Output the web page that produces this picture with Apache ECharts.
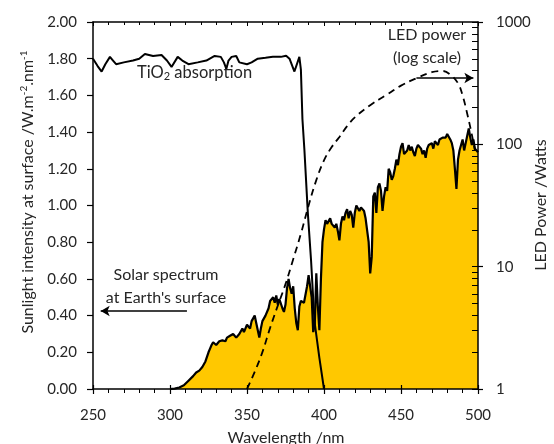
<!DOCTYPE html>
<html>
<head>
<meta charset="utf-8">
<script src="https://cdn.jsdelivr.net/npm/echarts@6/dist/echarts.min.js"></script>
<style>
  html, body { margin: 0; padding: 0; background: #fff; }
  #main { width: 554px; height: 444px; }
</style>
</head>
<body>
<div id="main"></div>
<script>
// 太阳光谱 [波长nm, 强度]
var solarData = [
  [300,0],[303,0.002],[306,0.008],[309,0.02],[312,0.045],[315,0.07],[317,0.09],[319,0.1],
  [321,0.12],[323,0.15],[325,0.2],[326,0.22],[327,0.24],[328,0.255],[329,0.26],[330,0.24],
  [331,0.25],[332,0.26],[333,0.25],[334,0.265],[335,0.27],[336,0.26],[337,0.28],[338,0.27],
  [339,0.29],[340,0.29],[341,0.3],[342,0.3],[343,0.28],[344,0.285],[345,0.3],[346,0.31],
  [347,0.33],[348,0.31],[349,0.3],[350,0.35],[351,0.36],[352,0.33],[353,0.37],[354,0.38],
  [355,0.4],[356,0.36],[357,0.32],[358,0.28],[359,0.33],[360,0.37],[361,0.38],[362,0.4],
  [363,0.41],[364,0.44],[365,0.48],[366,0.49],[367,0.5],[368,0.47],[369,0.51],[370,0.46],
  [371,0.49],[372,0.5],[373,0.44],[374,0.42],[375,0.46],[376,0.55],[377,0.6],[378,0.55],
  [379,0.52],[380,0.56],[381,0.44],[382,0.36],[383,0.32],[384,0.45],[385,0.48],[386,0.47],
  [387,0.47],[388,0.48],[389,0.56],[390,0.62],[391,0.63],[392,0.5],[393,0.31],[394,0.35],
  [395,0.63],[396,0.45],[397,0.32],[398,0.6],[399,0.8],[400,0.87],[401,0.92],[402,0.9],
  [403,0.91],[404,0.93],[405,0.9],[406,0.89],[407,0.88],[408,0.9],[409,0.86],[410,0.81],
  [411,0.9],[412,0.94],[413,0.92],[414,0.96],[415,0.98],[416,0.93],[417,0.97],[418,0.95],
  [419,0.88],[420,0.96],[421,1.0],[422,0.99],[423,0.97],[424,0.99],[425,0.98],[426,0.97],
  [427,0.93],[428,0.92],[429,0.8],[430,0.63],[431,0.72],[432,1.05],[433,1.07],[434,0.96],
  [435,1.1],[436,1.12],[437,1.08],[438,0.97],[439,1.05],[440,1.1],[441,1.08],[442,1.2],
  [443,1.18],[444,1.14],[445,1.16],[446,1.2],[447,1.25],[448,1.22],[449,1.28],[450,1.32],
  [451,1.34],[452,1.28],[453,1.27],[454,1.3],[455,1.33],[456,1.3],[457,1.32],[458,1.29],
  [459,1.27],[460,1.31],[461,1.33],[462,1.34],[463,1.31],[464,1.28],[465,1.3],[466,1.26],
  [467,1.31],[468,1.33],[469,1.32],[470,1.34],[471,1.31],[472,1.35],[473,1.34],[474,1.33],
  [475,1.36],[476,1.35],[477,1.37],[478,1.38],[479,1.37],[480,1.39],[481,1.38],[482,1.36],
  [483,1.34],[484,1.3],[485,1.2],[486,1.09],[487,1.25],[488,1.3],[489,1.33],[490,1.36],
  [491,1.3],[492,1.34],[493,1.38],[494,1.42],[495,1.37],[496,1.33],[497,1.36],[498,1.31],
  [499,1.3],[500,1.29]
];

// TiO2 吸收曲线
var tio2Data = [
  [250,1.80],[253,1.76],[255.6,1.73],[258,1.77],[261,1.81],[263,1.79],[265,1.77],[270,1.78],
  [276,1.79],[280,1.80],[283.7,1.826],[289,1.815],[294.5,1.82],[298,1.79],[301,1.755],
  [305,1.81],[308,1.79],[312,1.77],[318,1.78],[323.6,1.79],[329,1.815],[333,1.81],[335,1.78],
  [336.6,1.745],[338,1.79],[340,1.81],[343,1.815],[345,1.78],[350,1.77],[353,1.78],[357,1.80],
  [362,1.805],[366.8,1.81],[372,1.81],[375.4,1.816],[377.6,1.80],[380.8,1.73],[384,1.81],
  [385,1.74],[386,1.47],[387.3,1.3],[389.5,0.96],[391.6,0.7],[393.8,0.37],[397,0.17],[400,0]
];

// LED 功率 (对数坐标, 瓦)
var ledNm    = [350, 355, 360, 365, 370, 375, 380, 385, 390, 395, 400, 405, 410, 415, 420, 430, 440, 450, 460, 470, 477, 482, 487, 490, 493, 496, 498];
var ledWatts = [1, 1.38, 2.0, 3.16, 4.8, 7.2, 11.5, 18.6, 31.6, 51, 74, 95, 115, 141, 166, 209, 251, 302, 347, 389, 398, 372, 316, 251, 178, 120, 89];

var rightMinor = [1,2,3,4,5,6,7,8,9,10,20,30,40,50,60,70,80,90,100,200,300,400,500,600,700,800,900,1000];

var ledData = [];
for (var i = 0; i < ledNm.length; i++) {
  ledData.push([ledNm[i], ledWatts[i]]);
}
// 对数轴刻度位置
var minorLog = rightMinor.map(function (v) { return Math.log10(v); });

var FONT = 'Lato';
var TXT = '#262626';
var RECT = { left: 93, right: 76, top: 22, bottom: 55 };
var HIDDEN_LINE = { show: true, onZero: false, lineStyle: { color: '#000', width: 0, opacity: 0 } };

var myChart = echarts.init(document.getElementById('main'));

myChart.setOption({
  animation: false,
  grid: [
    { left: RECT.left, right: RECT.right, top: RECT.top, bottom: RECT.bottom },
    { left: RECT.left, right: RECT.right, top: RECT.top, bottom: RECT.bottom },
    { left: RECT.left, right: RECT.right, top: RECT.top, bottom: RECT.bottom }
  ],
  xAxis: [
    {
      type: 'value', min: 250, max: 500, interval: 50, position: 'bottom', gridIndex: 0, z: 10,
      axisLine: { onZero: false, lineStyle: { color: '#000', width: 1.5 } },
      axisTick: { show: true, length: 5, lineStyle: { color: '#000', width: 1.2 } },
      minorTick: { show: true, splitNumber: 5, length: 4, lineStyle: { color: '#000', width: 1 } },
      axisLabel: { margin: 19, fontSize: 15, fontFamily: FONT, color: TXT },
      splitLine: { show: false }
    },
    {
      type: 'value', min: 250, max: 500, interval: 50, position: 'top', gridIndex: 0, z: 10,
      axisLine: { show: true, onZero: false, lineStyle: { color: '#000', width: 1.5 } },
      axisTick: { show: true, inside: true, length: 4, lineStyle: { color: '#000', width: 1 } },
      minorTick: { show: true, splitNumber: 5, length: 3, lineStyle: { color: '#000', width: 1 } },
      axisLabel: { show: false },
      splitLine: { show: false }
    },
    {
      type: 'value', min: 250, max: 500, interval: 50, position: 'bottom', gridIndex: 1, z: 10,
      axisLine: HIDDEN_LINE,
      axisTick: { show: true, inside: true, length: 4, lineStyle: { color: '#000', width: 1.2 } },
      axisLabel: { show: false },
      splitLine: { show: false }
    },
    {
      type: 'value', min: 250, max: 500, interval: 50, position: 'bottom', gridIndex: 2,
      show: false
    }
  ],
  yAxis: [
    {
      type: 'value', min: 0, max: 2, interval: 0.2, position: 'left', gridIndex: 0, z: 10,
      axisLine: { show: true, onZero: false, lineStyle: { color: '#000', width: 1.5 } },
      axisTick: { show: true, length: 6, lineStyle: { color: '#000', width: 1.2 } },
      axisLabel: { margin: 16, fontSize: 15, fontFamily: FONT, color: TXT,
        formatter: function (v) { return v.toFixed(2); } },
      splitLine: { show: false }
    },
    {
      type: 'log', logBase: 10, min: 1, max: 1000, position: 'right', gridIndex: 0, z: 10,
      axisLine: { show: true, onZero: false, lineStyle: { color: '#000', width: 1.5 } },
      axisTick: { show: false },
      axisLabel: { margin: 18, fontSize: 15, fontFamily: FONT, color: TXT,
        formatter: function (v) { return String(Math.round(v)); } },
      splitLine: { show: false }
    },
    {
      type: 'value', min: 0, max: 3, position: 'right', gridIndex: 1, z: 10,
      axisLine: HIDDEN_LINE,
      axisTick: { show: true, inside: true, length: 6, customValues: minorLog, lineStyle: { color: '#000', width: 1 } },
      axisLabel: { show: false },
      splitLine: { show: false }
    },
    {
      type: 'value', min: 0, max: 3, interval: 1, position: 'right', gridIndex: 2, z: 10,
      axisLine: HIDDEN_LINE,
      axisTick: { show: true, length: 5, lineStyle: { color: '#000', width: 1.2 } },
      axisLabel: { show: false },
      splitLine: { show: false }
    }
  ],
  series: [
    {
      name: 'solar', type: 'line', xAxisIndex: 0, yAxisIndex: 0,
      data: solarData, symbol: 'none', smooth: false,
      lineStyle: { color: '#000', width: 2.2 },
      areaStyle: { color: '#FFC800', opacity: 1 },
      z: 2
    },
    {
      name: 'led', type: 'line', xAxisIndex: 0, yAxisIndex: 1,
      data: ledData, symbol: 'none', smooth: 0.4,
      lineStyle: { color: '#000', width: 1.8, type: [7, 5] },
      z: 3
    },
    {
      name: 'tio2', type: 'line', xAxisIndex: 0, yAxisIndex: 0,
      data: tio2Data, symbol: 'none', smooth: false,
      lineStyle: { color: '#000', width: 2 },
      z: 4,
      markLine: {
        silent: true, animation: false,
        lineStyle: { color: '#000', width: 1.5, type: 'solid' },
        label: { show: false },
        symbolSize: [8, 9],
        data: [
          [ { coord: [311, 0.425], symbol: 'none' }, { coord: [255, 0.425], symbol: 'arrow' } ],
          [ { coord: [460, 1.695], symbol: 'none' }, { coord: [497, 1.695], symbol: 'arrow' } ]
        ]
      }
    }
  ],
  graphic: [
    {
      type: 'text', left: 137, top: 64,
      style: {
        text: 'TiO{sub|2} absorption', fontSize: 16.5, fontFamily: FONT, fill: TXT,
        rich: { sub: { fontSize: 11, fontFamily: FONT, fill: TXT, padding: [8, 0, 0, 0] } }
      }
    },
    {
      type: 'text', x: 166, y: 286,
      style: {
        text: "Solar spectrum\nat Earth's surface", fontSize: 16, fontFamily: FONT, fill: TXT,
        align: 'center', verticalAlign: 'middle', lineHeight: 23
      }
    },
    {
      type: 'text', x: 427, y: 46,
      style: {
        text: 'LED power\n(log scale)', fontSize: 16, fontFamily: FONT, fill: TXT,
        align: 'center', verticalAlign: 'middle', lineHeight: 23
      }
    },
    {
      type: 'text', x: 28, y: 192, rotation: Math.PI / 2,
      style: {
        text: 'Sunlight intensity at surface /W.m{sup|-2}.nm{sup|-1}', fontSize: 16, fontFamily: FONT, fill: TXT,
        align: 'center', verticalAlign: 'middle',
        rich: { sup: { fontSize: 10, fontFamily: FONT, fill: TXT, padding: [0, 0, 8, 0] } }
      }
    },
    {
      type: 'text', x: 541, y: 205, rotation: Math.PI / 2,
      style: {
        text: 'LED Power /Watts', fontSize: 16, fontFamily: FONT, fill: TXT,
        align: 'center', verticalAlign: 'middle'
      }
    },
    {
      type: 'text', x: 286, y: 438,
      style: {
        text: 'Wavelength /nm', fontSize: 16, fontFamily: FONT, fill: TXT,
        align: 'center', verticalAlign: 'middle'
      }
    }
  ]
});
</script>
</body>
</html>
